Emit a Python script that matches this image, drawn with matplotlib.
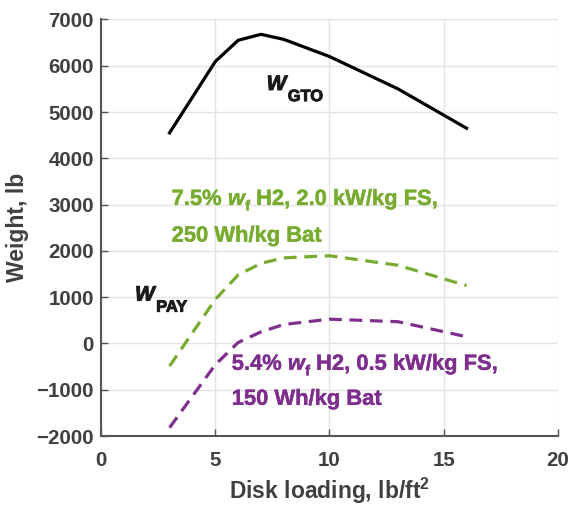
import matplotlib
matplotlib.use("Agg")
import matplotlib.pyplot as plt
import matplotlib.patheffects as pe
from matplotlib import font_manager
from matplotlib.font_manager import FontProperties
from matplotlib.transforms import ScaledTranslation

plt.rcParams["font.family"] = ["Liberation Sans", "DejaVu Sans"]
plt.rcParams["font.weight"] = "bold"
plt.rcParams["mathtext.fontset"] = "custom"
plt.rcParams["mathtext.rm"] = "Liberation Sans:bold"
plt.rcParams["mathtext.it"] = "Liberation Sans:bold:italic"
plt.rcParams["mathtext.bf"] = "Liberation Sans:bold"

# Gross takeoff weight vs disk loading
dl_gto = [3, 5, 6, 7, 8, 10, 13, 16]
w_gto = [4550, 6090, 6550, 6680, 6570, 6200, 5500, 4650]

# Payload weight, advanced technology case
dl_pay = [3, 5, 6, 7, 8, 10, 13, 16]
w_pay_adv = [-490, 950, 1480, 1730, 1850, 1895, 1690, 1250]
# Payload weight, baseline technology case
w_pay_base = [-1820, -460, 20, 250, 410, 525, 470, 145]

xticks = [0, 5, 10, 15, 20]
yticks = [-2000, -1000, 0, 1000, 2000, 3000, 4000, 5000, 6000, 7000]

GREEN = "#77AC30"
PURPLE = "#7E2F8E"
TICK = "#404040"
DARK = "#1a1a1a"


def font_file(family, italic, bold):
    for f in font_manager.fontManager.ttflist:
        if f.name != family:
            continue
        is_it = f.style in ("italic", "oblique")
        is_bd = (f.weight == "bold") or (isinstance(f.weight, int) and f.weight >= 600)
        if is_it == italic and is_bd == bold:
            return f.fname
    return None


BOLD_FILE = font_file("Liberation Sans", False, True)
BOLDIT_FILE = font_file("Liberation Sans", True, True)


def fprops(size, italic):
    fname = BOLDIT_FILE if italic else BOLD_FILE
    if fname:
        return FontProperties(fname=fname, size=size)
    return FontProperties(family="Liberation Sans", weight="bold",
                          style="italic" if italic else "normal", size=size)


fig = plt.figure(figsize=(5.71, 5.05), dpi=100)
ax = fig.add_axes([0.1769, 0.1366, 0.8003, 0.8248])

ax.plot(dl_gto, w_gto, color="black", lw=2.3, solid_joinstyle="miter")
ax.plot(dl_pay, w_pay_adv, color=GREEN, lw=2.3, dashes=(4, 2.4))
ax.plot(dl_pay, w_pay_base, color=PURPLE, lw=2.3, dashes=(4, 2.4))

ax.set_xlim(0, 20)
ax.set_ylim(-2000, 7000)
ax.set_xticks(xticks)
ax.set_yticks(yticks)
ax.grid(True, color="#e3e3e3", lw=1.0)
ax.set_axisbelow(True)

for s in ("top", "right"):
    ax.spines[s].set_visible(False)
for s in ("left", "bottom"):
    ax.spines[s].set_color("#555555")
    ax.spines[s].set_linewidth(1.5)

ax.tick_params(direction="in", length=5, width=1.0, color="#555555",
               labelcolor=TICK, labelsize=14.8)
ax.tick_params(axis="x", pad=11)
ax.tick_params(axis="y", pad=5)
for lab in ax.get_xticklabels() + ax.get_yticklabels():
    lab.set_fontweight("bold")

ax.set_xlabel("Disk loading, lb/ft$^2$", fontsize=16.5, color=TICK,
              fontweight="bold", labelpad=4)
ax.set_ylabel("Weight, lb", fontsize=16.5, color=TICK, fontweight="bold",
              labelpad=5)

renderer = fig.canvas.get_renderer()


def rich_text(x, y, pieces, color, stroke=0.0):
    """Lay out text pieces left to right from a data anchor on a baseline.

    Each piece is (text, fontsize, italic, drop_pt, gap_pt).
    """
    dx = 0.0
    effects = [pe.withStroke(linewidth=stroke, foreground=color)] if stroke else None
    for s, size, italic, drop, gap in pieces:
        dx += gap
        off = ScaledTranslation(dx / 72, -drop / 72, fig.dpi_scale_trans)
        t = ax.text(x, y, s, fontproperties=fprops(size, italic), color=color,
                    ha="left", va="baseline", transform=ax.transData + off,
                    path_effects=effects)
        dx += t.get_window_extent(renderer).width * 72 / fig.dpi


SUB = 8.0
rich_text(7.25, 5477, [("W", 15, True, 0, 0), ("GTO", 11.8, False, SUB, 1.0)],
          DARK, stroke=0.7)
rich_text(1.49, 927, [("W", 15, True, 0, 0), ("PAY", 11.8, False, SUB, 1.0)],
          DARK, stroke=0.7)

MAIN = 15.8
FS = 10.5
FDROP = 4.0
rich_text(3.09, 2994, [("7.5%", MAIN, False, 0, 0), ("w", MAIN, True, 0, 4.3),
                       ("f", FS, False, FDROP, 0.2),
                       ("H2, 2.0 kW/kg FS,", MAIN, False, 0, 4.3)], GREEN, stroke=0.3)
rich_text(3.09, 2201, [("250 Wh/kg Bat", MAIN, False, 0, 0)], GREEN, stroke=0.3)

rich_text(5.72, -570, [("5.4%", MAIN, False, 0, 0), ("w", MAIN, True, 0, 4.3),
                       ("f", FS, False, FDROP, 0.2),
                       ("H2, 0.5 kW/kg FS,", MAIN, False, 0, 4.3)], PURPLE, stroke=0.3)
rich_text(5.72, -1326, [("150 Wh/kg Bat", MAIN, False, 0, 0)], PURPLE, stroke=0.3)

fig.savefig("out.png", dpi=100)
